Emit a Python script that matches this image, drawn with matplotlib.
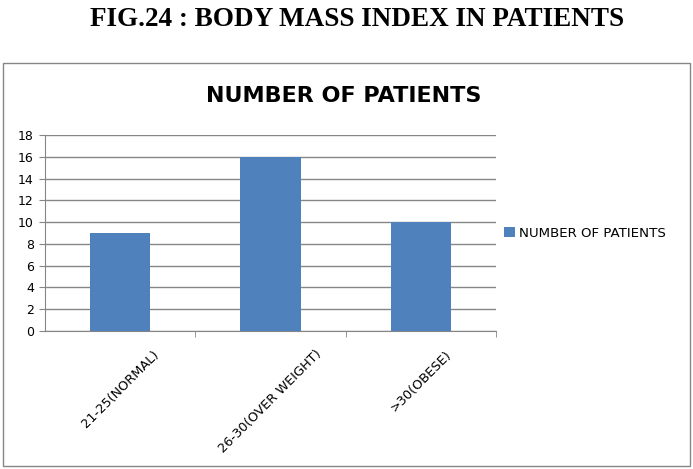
import matplotlib.pyplot as plt
from matplotlib.patches import Rectangle

categories = ["21-25(NORMAL)", "26-30(OVER WEIGHT)", ">30(OBESE)"]
patients = [9, 16, 10]
yticks = [0, 2, 4, 6, 8, 10, 12, 14, 16, 18]

bar_color = "#4F81BD"
grid_color = "#868686"

fig = plt.figure(figsize=(6.93, 4.69), dpi=100)
ax = fig.add_axes([45 / 693, 1 - 331 / 469, 451 / 693, 196 / 469])

x = range(len(categories))
ax.bar(x, patients, width=0.4, color=bar_color, label="NUMBER OF PATIENTS", zorder=3)

ax.set_xlim(-0.5, len(categories) - 0.5)
ax.set_ylim(0, 18)
ax.set_yticks(yticks)
ax.set_yticklabels([str(v) for v in yticks], fontsize=9)
ax.yaxis.grid(True, color=grid_color, linewidth=1, zorder=0)
ax.tick_params(axis="y", length=4, color=grid_color, pad=4)

# categories labels sit in the middle, ticks go between them
ax.set_xticks(list(x))
ax.set_xticklabels(categories, rotation=45, fontsize=9.3)
ax.tick_params(axis="x", length=0, pad=12)
ax.set_xticks([i + 0.5 for i in x], minor=True)
ax.tick_params(axis="x", which="minor", length=4, color=grid_color)

for side in ["top", "right"]:
    ax.spines[side].set_visible(False)
for side in ["left", "bottom"]:
    ax.spines[side].set_color(grid_color)

fig.text(344 / 693, 1 - 96 / 469, "NUMBER OF PATIENTS", ha="center", va="center",
         fontsize=16, fontweight="bold")

ax.legend(loc="center left", bbox_to_anchor=(1.0, 0.5), frameon=False,
          fontsize=9.6, handlelength=0.8, handleheight=0.8, handletextpad=0.3,
          borderaxespad=0.2)

fig.text(0.515, 1 - 19 / 469, "FIG.24 : BODY MASS INDEX IN PATIENTS",
         ha="center", va="center", fontsize=19.5, fontweight="bold",
         family="Liberation Serif")

fig.patches.append(Rectangle((3 / 693, 3 / 469), 687 / 693, 403 / 469,
                             transform=fig.transFigure, fill=False,
                             edgecolor=grid_color, linewidth=1))

fig.savefig("out.png", dpi=100)
